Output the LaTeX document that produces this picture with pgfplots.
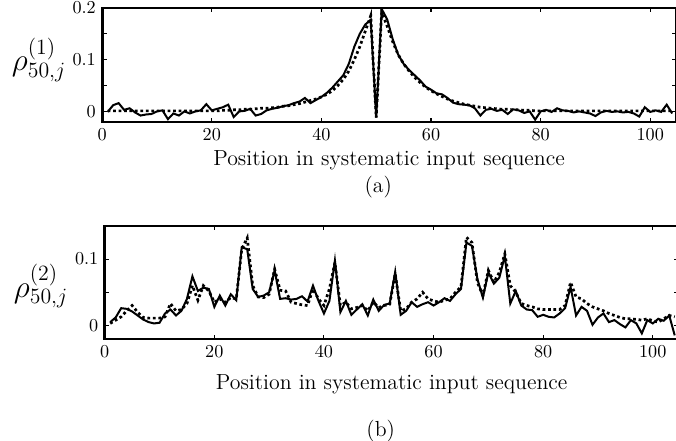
\documentclass[border=0pt]{standalone}
\usepackage{pgfplots}
\pgfplotsset{compat=1.18}
\usepackage{pgfplotstable}

% top panel: x, simulated (solid), theoretical (dotted)
\pgfplotstableread{
x sim theo
1 -0.001 0.001
2 0.012 0.001
3 0.016 0.001
4 0.003 0.001
5 0.006 0.001
6 -0.002 0.001
7 -0.008 0.001
8 -0.006 0.001
9 -0.005 0.001
10 0.000 0.001
11 0.002 0.001
12 -0.015 0.001
13 -0.004 0.001
14 -0.008 0.001
15 0.000 0.001
16 -0.004 0.001
17 0.000 0.001
18 0.002 0.001
19 0.014 0.001
20 0.002 0.001
21 0.005 0.001
22 0.008 0.002
23 0.013 0.002
24 -0.011 0.003
25 0.000 0.003
26 0.001 0.004
27 0.005 0.004
28 -0.008 0.005
29 -0.005 0.006
30 0.002 0.006
31 0.005 0.007
32 0.007 0.008
33 0.010 0.010
34 0.012 0.011
35 0.016 0.013
36 0.019 0.015
37 0.026 0.018
38 0.016 0.021
39 0.022 0.024
40 0.028 0.028
41 0.036 0.033
42 0.046 0.040
43 0.058 0.050
44 0.070 0.062
45 0.092 0.078
46 0.125 0.100
47 0.150 0.125
48 0.168 0.155
49 0.177 0.185
50 -0.012 -0.012
51 0.198 0.192
52 0.178 0.165
53 0.140 0.135
54 0.110 0.110
55 0.092 0.092
56 0.080 0.078
57 0.070 0.066
58 0.060 0.056
59 0.048 0.047
60 0.042 0.040
61 0.035 0.034
62 0.033 0.029
63 0.026 0.024
64 0.017 0.020
65 0.014 0.017
66 0.013 0.014
67 0.012 0.012
68 0.006 0.010
69 -0.008 0.008
70 0.003 0.007
71 0.005 0.006
72 0.001 0.005
73 0.003 0.004
74 -0.005 0.004
75 0.004 0.003
76 0.002 0.003
77 -0.003 0.002
78 0.000 0.002
79 -0.016 0.001
80 0.000 0.001
81 0.003 0.001
82 -0.001 0.001
83 0.006 0.001
84 0.002 0.001
85 0.001 0.001
86 -0.002 0.001
87 0.000 0.001
88 -0.002 0.001
89 -0.004 0.001
90 -0.009 0.001
91 -0.002 0.001
92 0.001 0.001
93 -0.001 0.001
94 0.000 0.001
95 -0.002 0.001
96 -0.001 0.001
97 -0.004 0.001
98 -0.010 0.001
99 0.008 0.001
100 -0.001 0.001
101 0.002 0.001
102 -0.001 0.001
103 0.013 0.001
104 -0.004 0.001
}\toptable

% bottom panel
\pgfplotstableread{
x sim theo
1 0.005 0.003
2 0.012 0.008
3 0.026 0.013
4 0.025 0.022
5 0.021 0.030
6 0.015 0.020
7 0.009 0.012
8 0.005 0.011
9 0.003 0.011
10 0.004 0.011
11 0.018 0.013
12 0.024 0.033
13 0.015 0.022
14 0.022 0.024
15 0.040 0.033
16 0.074 0.060
17 0.052 0.038
18 0.057 0.060
19 0.055 0.052
20 0.028 0.035
21 0.045 0.040
22 0.030 0.035
23 0.047 0.042
24 0.038 0.040
25 0.118 0.115
26 0.115 0.132
27 0.055 0.060
28 0.043 0.043
29 0.045 0.042
30 0.050 0.047
31 0.083 0.085
32 0.040 0.053
33 0.041 0.052
34 0.039 0.035
35 0.040 0.033
36 0.044 0.031
37 0.036 0.030
38 0.060 0.055
39 0.037 0.040
40 0.018 0.030
41 0.037 0.055
42 0.098 0.095
43 0.020 0.030
44 0.037 0.035
45 0.016 0.025
46 0.024 0.027
47 0.032 0.030
48 0.015 0.022
49 0.039 0.035
50 0.022 0.027
51 0.031 0.030
52 0.033 0.032
53 0.081 0.078
54 0.016 0.022
55 0.022 0.025
56 0.035 0.035
57 0.028 0.040
58 0.032 0.050
59 0.035 0.040
60 0.030 0.037
61 0.035 0.035
62 0.041 0.038
63 0.037 0.040
64 0.047 0.050
65 0.055 0.058
66 0.125 0.133
67 0.120 0.125
68 0.070 0.065
69 0.042 0.045
70 0.080 0.083
71 0.063 0.065
72 0.072 0.080
73 0.105 0.108
74 0.033 0.060
75 0.052 0.050
76 0.030 0.033
77 0.024 0.030
78 0.023 0.028
79 0.013 0.025
80 0.016 0.024
81 0.013 0.024
82 0.012 0.024
83 0.018 0.024
84 0.026 0.030
85 0.058 0.065
86 0.015 0.043
87 0.028 0.040
88 0.022 0.033
89 0.001 0.028
90 0.012 0.025
91 0.018 0.022
92 0.005 0.018
93 0.008 0.015
94 0.002 0.012
95 -0.003 0.010
96 0.008 0.010
97 0.003 0.009
98 -0.012 0.008
99 0.008 0.010
100 0.003 0.007
101 0.010 0.005
102 0.007 0.010
103 0.015 0.015
104 -0.015 0.013
}\bottable

\pgfplotsset{
  panel/.style={
    scale only axis,
    width=315.6pt,
    xmin=0, xmax=104.7,
    xtick={0,20,40,60,80,100},
    axis line style={line width=1.5pt},
    tick style={line width=0.6pt, black},
    major tick length=2.4pt,
    minor tick length=2.4pt,
    tick align=inside,
    ticklabel style={font=\normalsize},
    xlabel={Position in systematic input sequence},
    xlabel style={font=\large, at={(axis description cs:0.5,0)}, anchor=base},
    ylabel style={font=\LARGE, rotate=-90, anchor=center},
  },
  simline/.style={black, line width=1.1pt},
  theoline/.style={black, line width=1.5pt, dash pattern=on 1.5pt off 1.5pt},
}

\begin{document}
\begin{tikzpicture}
\path[use as bounding box] (0pt,0pt) rectangle (371.8pt,-242.55pt);

\begin{axis}[panel,
  name=top,
  at={(56.2pt,-4.4pt)}, anchor=north west,
  height=62.7pt,
  ymin=-0.0205, ymax=0.2,
  ytick={0,0.1,0.2},
  minor ytick={0.05,0.15},
  xlabel style={yshift=-24pt},
  ylabel={$\rho^{(1)}_{50,j}$},
  ylabel style={at={(axis description cs:-0.110,0.544)}},
]
\addplot[theoline] table[x=x, y=theo] {\toptable};
\addplot[simline] table[x=x, y=sim] {\toptable};
\end{axis}
\node[font=\large, anchor=base, xshift=-6pt, yshift=-38.8pt] at (top.south) {(a)};

\begin{axis}[panel,
  name=bot,
  at={(57.6pt,-124.3pt)}, anchor=north west,
  height=62.15pt,
  ymin=-0.0205, ymax=0.15,
  ytick={0,0.1},
  minor ytick={0.05},
  xlabel style={yshift=-28pt},
  ylabel={$\rho^{(2)}_{50,j}$},
  ylabel style={at={(axis description cs:-0.111,0.469)}},
]
\addplot[theoline] table[x=x, y=theo] {\bottable};
\addplot[simline] table[x=x, y=sim] {\bottable};
\end{axis}
\node[font=\large, anchor=base, xshift=-6pt, yshift=-53.6pt] at (bot.south) {(b)};
\end{tikzpicture}
\end{document}
